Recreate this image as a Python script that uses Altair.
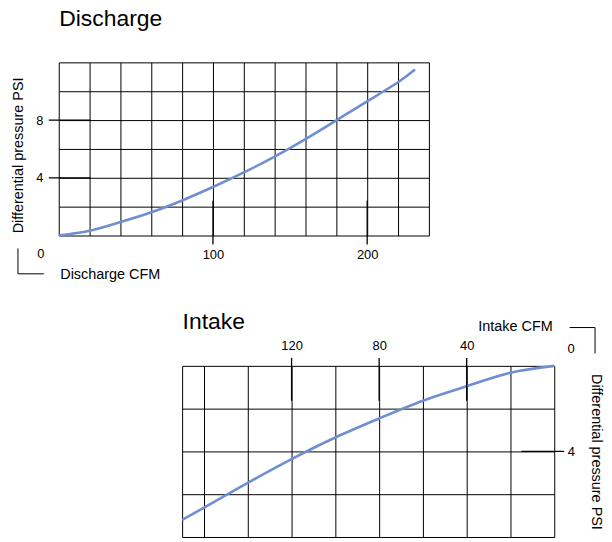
import altair as alt
import pandas as pd

# ---- data ----
dis_cfm = [0, 20, 40, 60, 80, 100, 120, 140, 160, 180, 200, 220, 231]
dis_psi = [0, 0.33, 0.93, 1.61, 2.43, 3.36, 4.37, 5.47, 6.68, 7.98, 9.3, 10.62, 11.5]
int_cfm = [0, 20, 40, 60, 80, 100, 120, 140, 160, 170]
int_psi = [0, 0.32, 0.95, 1.63, 2.46, 3.35, 4.36, 5.47, 6.63, 7.2]

dis_grid_x = list(range(0, 241, 20))
dis_grid_y = list(range(0, 13, 2))
dis_label_x = [100, 200]
dis_label_y = [4, 8]
int_grid_x = list(range(0, 161, 20)) + [170]
int_grid_y = [0, 2, 4, 6, 8]
int_label_x = [40, 80, 120]
int_label_y = [4]
origin_label = ["0"]
titles = ["Discharge", "Intake"]

FONT = "Liberation Sans"
BLUE = "#6f8fd0"
one = pd.DataFrame({"a": [0]})

# ================= Discharge =================
DW, DH = 372, 174
xs_d = alt.Scale(domain=[0, 240], nice=False, zero=False)
ys_d = alt.Scale(domain=[0, 12], nice=False, zero=False)

ax_xd = alt.Axis(values=dis_grid_x, grid=True, gridColor="black", gridWidth=1, gridOpacity=1,
                 domain=False, ticks=True, tickSize=9, tickColor="transparent",
                 labelExpr="datum.value == 100 || datum.value == 200 ? datum.label : ''",
                 labelFont=FONT, labelFontSize=13, labelColor="black", labelPadding=4,
                 labelOverlap=False, labelFlush=False,
                 title="Discharge CFM", titleAnchor="start", titleAlign="left", titleX=1,
                 titleFont=FONT, titleFontSize=14.5, titleFontWeight="normal",
                 titleColor="black", titlePadding=6.5)
ax_yd = alt.Axis(values=dis_grid_y, grid=True, gridColor="black", gridWidth=1, gridOpacity=1,
                 domain=False, ticks=True, tickSize=10, tickColor="transparent",
                 labelExpr="datum.value == 4 || datum.value == 8 ? datum.label : ''",
                 labelFont=FONT, labelFontSize=13, labelColor="black", labelPadding=6,
                 labelOverlap=False, labelFlush=False,
                 title="Differential pressure PSI", titleY=93,
                 titleFont=FONT, titleFontSize=14.5, titleFontWeight="normal",
                 titleColor="black", titlePadding=10)
X_d = alt.X("cfm:Q", scale=xs_d, axis=ax_xd)
Y_d = alt.Y("psi:Q", scale=ys_d, axis=ax_yd)

df_d = pd.DataFrame({"cfm": dis_cfm, "psi": dis_psi})
line_d = alt.Chart(df_d).mark_line(color=BLUE, strokeWidth=2.6, interpolate="natural").encode(x=X_d, y=Y_d)
xt_d = alt.Chart(pd.DataFrame({"cfm": dis_label_x})).mark_rule(color="black", strokeWidth=1.3).encode(
    x=X_d, y=alt.value(DH - 35), y2=alt.value(DH + 9))
yt_d = alt.Chart(pd.DataFrame({"psi": dis_label_y})).mark_rule(color="black", strokeWidth=1.3).encode(
    y=Y_d, x=alt.value(-10), x2=alt.value(32))
zero_d = alt.Chart(pd.DataFrame({"cfm": [0], "psi": [0], "lab": origin_label})).mark_text(
    font=FONT, fontSize=13, color="black", dx=-18, dy=19, align="center", baseline="middle").encode(
    x=X_d, y=Y_d, text="lab:N")
lv_d = alt.Chart(one).mark_rule(color="black", strokeWidth=1).encode(
    x=alt.value(-41), y=alt.value(187), y2=alt.value(212.5))
lh_d = alt.Chart(one).mark_rule(color="black", strokeWidth=1).encode(
    x=alt.value(-41), x2=alt.value(-15), y=alt.value(212.5))
title_d = alt.Chart(pd.DataFrame({"t": [titles[0]]})).mark_text(
    font=FONT, fontSize=23, color="black", align="left", baseline="alphabetic").encode(
    x=alt.value(0.5), y=alt.value(-36.5), text="t:N")

discharge = alt.layer(line_d, xt_d, yt_d, zero_d, lv_d, lh_d, title_d).properties(width=DW, height=DH)

# ================= Intake =================
IW, IH = 374, 172
xs_i = alt.Scale(domain=[0, 170], nice=False, zero=False, reverse=True)
ys_i = alt.Scale(domain=[0, 8], nice=False, zero=False, reverse=True)

ax_xi = alt.Axis(orient="top", values=int_grid_x, grid=True, gridColor="black", gridWidth=1, gridOpacity=1,
                 domain=False, ticks=True, tickSize=8, tickColor="transparent",
                 labelExpr="datum.value == 40 || datum.value == 80 || datum.value == 120 ? datum.label : ''",
                 labelFont=FONT, labelFontSize=13, labelColor="black", labelPadding=5,
                 labelOverlap=False, labelFlush=False,
                 title="Intake CFM", titleAnchor="end", titleAlign="right", titleX=IW - 2,
                 titleFont=FONT, titleFontSize=14.5, titleFontWeight="normal",
                 titleColor="black", titlePadding=6.5)
ax_yi = alt.Axis(orient="right", values=int_grid_y, grid=True, gridColor="black", gridWidth=1, gridOpacity=1,
                 domain=False, ticks=True, tickSize=10, tickColor="transparent",
                 labelExpr="datum.value == 4 ? datum.label : ''",
                 labelFont=FONT, labelFontSize=13, labelColor="black", labelPadding=3,
                 labelOverlap=False, labelFlush=False,
                 title="Differential pressure PSI",
                 titleFont=FONT, titleFontSize=14.5, titleFontWeight="normal",
                 titleColor="black", titlePadding=14)
X_i = alt.X("cfm:Q", scale=xs_i, axis=ax_xi)
Y_i = alt.Y("psi:Q", scale=ys_i, axis=ax_yi)

df_i = pd.DataFrame({"cfm": int_cfm, "psi": int_psi})
line_i = alt.Chart(df_i).mark_line(color=BLUE, strokeWidth=2.6, interpolate="natural").encode(x=X_i, y=Y_i)
xt_i = alt.Chart(pd.DataFrame({"cfm": int_label_x})).mark_rule(color="black", strokeWidth=1.3).encode(
    x=X_i, y=alt.value(-8), y2=alt.value(35))
yt_i = alt.Chart(pd.DataFrame({"psi": int_label_y})).mark_rule(color="black", strokeWidth=1.3).encode(
    y=Y_i, x=alt.value(IW - 33), x2=alt.value(IW + 10))
zero_i = alt.Chart(pd.DataFrame({"cfm": [0], "psi": [0], "lab": origin_label})).mark_text(
    font=FONT, fontSize=13, color="black", dx=17, dy=-17, align="center", baseline="middle").encode(
    x=X_i, y=Y_i, text="lab:N")
lh_i = alt.Chart(one).mark_rule(color="black", strokeWidth=1).encode(
    x=alt.value(389.5), x2=alt.value(415), y=alt.value(-38.5))
lv_i = alt.Chart(one).mark_rule(color="black", strokeWidth=1).encode(
    x=alt.value(415), y=alt.value(-38.5), y2=alt.value(-12.5))
title_i = alt.Chart(pd.DataFrame({"t": [titles[1]]})).mark_text(
    font=FONT, fontSize=23, color="black", align="left", baseline="alphabetic").encode(
    x=alt.value(0.5), y=alt.value(-37.4), text="t:N")

intake = alt.layer(line_i, xt_i, yt_i, zero_i, lh_i, lv_i, title_i).properties(width=IW, height=IH)

spacer = alt.Chart(one).mark_point(opacity=0, size=1).encode(
    x=alt.X("a:Q", axis=None), y=alt.Y("a:Q", axis=None)).properties(width=117.5, height=1)

chart = alt.vconcat(discharge, alt.hconcat(spacer, intake, spacing=0), spacing=29).properties(
    padding={"left": 2, "top": -1.7, "right": 0, "bottom": 0}
).configure_view(strokeWidth=0)

chart.save("out.html", embed_options={"renderer": "svg", "actions": False})
